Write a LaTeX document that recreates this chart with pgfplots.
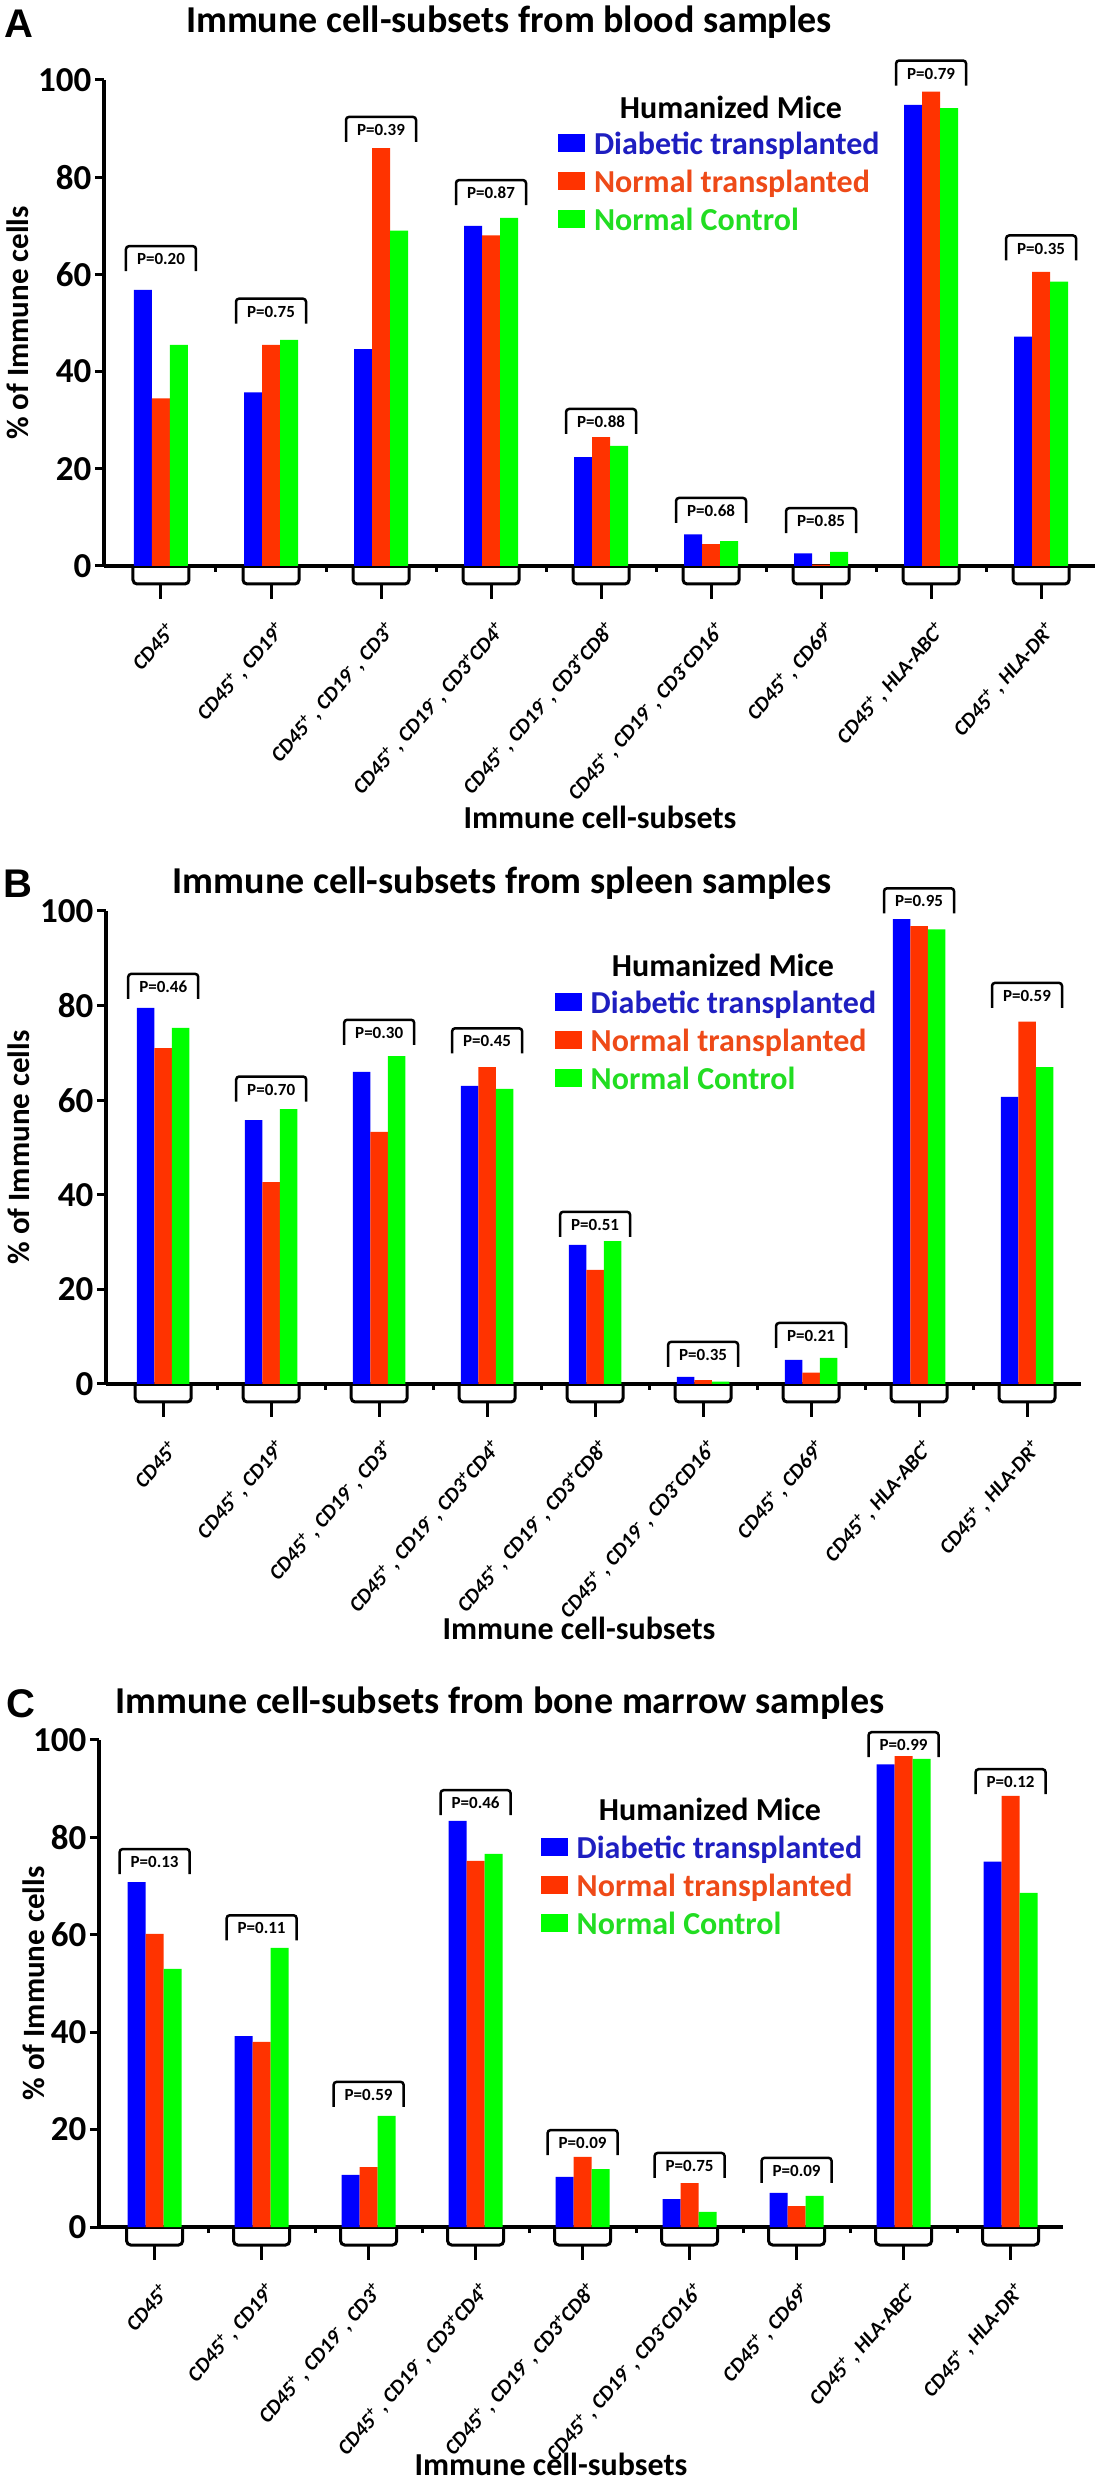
\documentclass[border=0pt]{standalone}
\usepackage{fontspec}
\setmainfont{Carlito}
\newfontfamily\arialfont{Liberation Sans}
\usepackage{pgfplots}
\usepackage{pgfplotstable}
\pgfplotsset{compat=1.18}

\definecolor{cdt}{HTML}{0000FF}
\definecolor{cnt}{HTML}{FF3300}
\definecolor{cnc}{HTML}{00FF00}
\definecolor{tdt}{HTML}{1E1EC0}
\definecolor{tnt}{HTML}{EE4A18}
\definecolor{tnc}{HTML}{22DD22}

\newcommand{\fs}[1]{\fontsize{#1}{#1}\selectfont\bfseries}

% % of immune cells: diabetic transplanted, normal transplanted, normal control
\pgfplotstableread{
x dt nt nc
0 56.8 34.5 45.5
1 35.7 45.5 46.5
2 44.6 86.0 69.0
3 70.0 68.0 71.6
4 22.4 26.5 24.7
5 6.5 4.5 5.1
6 2.6 0.3 2.9
7 94.9 97.6 94.2
8 47.2 60.5 58.5
}\blood
\pgfplotstableread{
x dt nt nc
0 79.5 71.0 75.3
1 55.8 42.7 58.1
2 66.0 53.3 69.3
3 63.0 67.0 62.4
4 29.4 24.1 30.2
5 1.5 0.8 0.5
6 5.1 2.4 5.5
7 98.3 96.8 96.1
8 60.7 76.6 67.0
}\spleen
\pgfplotstableread{
x dt nt nc
0 70.8 60.2 53.0
1 39.2 38.0 57.3
2 10.7 12.3 22.8
3 83.4 75.2 76.6
4 10.3 14.4 11.9
5 5.7 9.0 3.1
6 7.0 4.3 6.4
7 95.0 96.7 96.1
8 75.0 88.5 68.6
}\marrow

\pgfplotsset{
  sq/.style={legend image code/.code={\fill[##1] (0pt,-8pt) rectangle (27pt,10pt); \path (35pt,0pt);}},
  panel/.style={
    scale only axis,
    ybar=0pt, bar width=18pt,
    ymin=0, ymax=100, ytick={0,20,...,100},
    axis x line=bottom, axis y line=left,
    axis line style={line width=3.5pt,-},
    tick align=outside,
    tick style={black, line width=3pt},
    major tick length=9pt, minor tick length=6pt,
    xtick={0,...,8},
    minor xtick={0.5,1.5,...,7.5},
    major x tick style={draw=none},
    xticklabels={
      {CD45\textsuperscript{+}},
      {CD45\textsuperscript{+} , CD19\textsuperscript{+}},
      {CD45\textsuperscript{+} , CD19\textsuperscript{-} , CD3\textsuperscript{+}},
      {CD45\textsuperscript{+} , CD19\textsuperscript{-} , CD3\textsuperscript{+}CD4\textsuperscript{+}},
      {CD45\textsuperscript{+} , CD19\textsuperscript{-} , CD3\textsuperscript{+}CD8\textsuperscript{+}},
      {CD45\textsuperscript{+} , CD19\textsuperscript{-} , CD3\textsuperscript{-}CD16\textsuperscript{+}},
      {CD45\textsuperscript{+} , CD69\textsuperscript{+}},
      {CD45\textsuperscript{+} , HLA-ABC\textsuperscript{+}},
      {CD45\textsuperscript{+} , HLA-DR\textsuperscript{+}}},
    % the shift below is taken in the rotated frame of the label
    xticklabel style={rotate=49, anchor=east, inner sep=0pt,
      xshift=-32pt, yshift=-41pt, font=\fs{21}\itshape},
    yticklabel style={font=\fs{35}, /pgf/number format/assume math mode=true},
    ylabel={\% of Immune cells},
    ylabel style={font=\fs{31}, anchor=center},
    clip=false,
    legend style={draw=none, fill=none, anchor=north west, font=\fs{32},
      row sep=12pt, inner sep=0pt, nodes={inner sep=1pt}},
    legend cell align=left,
  }
}

% bracket under each category
\newcommand{\gbox}[1]{%
  \draw[line width=3pt, rounded corners=4pt]
    ([xshift=-28pt]axis cs:#1,0) -- ([shift={(-28pt,-18pt)}]axis cs:#1,0)
    -- ([shift={(28pt,-18pt)}]axis cs:#1,0) -- ([xshift=28pt]axis cs:#1,0);
  \draw[line width=3pt] ([yshift=-18pt]axis cs:#1,0) -- ([yshift=-33pt]axis cs:#1,0);}
% P value box above each group
\newcommand{\pbox}[3]{%
  \draw[line width=2.5pt, rounded corners=3pt]
    ([shift={(-35pt,-25pt)}]axis cs:#1,#2) -- ([xshift=-35pt]axis cs:#1,#2)
    -- ([xshift=35pt]axis cs:#1,#2) -- ([shift={(35pt,-25pt)}]axis cs:#1,#2);
  \node[font=\fs{17}] at ([yshift=-13pt]axis cs:#1,#2) {P=#3};}

\begin{document}
\begin{tikzpicture}[x=1pt,y=1pt]
\useasboundingbox (0,0) rectangle (1103,2478);

% ---------- A: blood ----------
\begin{axis}[panel, at={(104pt,1912pt)}, anchor=south west,
    width=991pt, height=486pt, xmin=-0.518, xmax=8.49,
    ylabel style={at={(axis description cs:-0.087,0.5)}},
    legend style={at={(axis description cs:0.458,0.895)}}]
  \addplot[fill=cdt, draw=none, sq] table[x=x,y=dt]{\blood};
  \addlegendentry{\textcolor{tdt}{Diabetic transplanted}}
  \addplot[fill=cnt, draw=none, sq] table[x=x,y=nt]{\blood};
  \addlegendentry{\textcolor{tnt}{Normal transplanted}}
  \addplot[fill=cnc, draw=none, sq] table[x=x,y=nc]{\blood};
  \addlegendentry{\textcolor{tnc}{Normal Control}}
  \pgfplotsinvokeforeach{0,...,8}{\gbox{#1}}
  \pbox{0}{65.8}{0.20}\pbox{1}{55.0}{0.75}\pbox{2}{92.4}{0.39}
  \pbox{3}{79.4}{0.87}\pbox{4}{32.3}{0.88}\pbox{5}{14.0}{0.68}
  \pbox{6}{11.9}{0.85}\pbox{7}{104.0}{0.79}\pbox{8}{68.0}{0.35}
\end{axis}

% ---------- B: spleen ----------
\begin{axis}[panel, at={(106pt,1094pt)}, anchor=south west,
    width=975pt, height=473pt, xmin=-0.53, xmax=8.5, bar width=17.5pt,
    ylabel style={at={(axis description cs:-0.09,0.5)}},
    legend style={at={(axis description cs:0.460,0.833)}}]
  \addplot[fill=cdt, draw=none, sq] table[x=x,y=dt]{\spleen};
  \addlegendentry{\textcolor{tdt}{Diabetic transplanted}}
  \addplot[fill=cnt, draw=none, sq] table[x=x,y=nt]{\spleen};
  \addlegendentry{\textcolor{tnt}{Normal transplanted}}
  \addplot[fill=cnc, draw=none, sq] table[x=x,y=nc]{\spleen};
  \addlegendentry{\textcolor{tnc}{Normal Control}}
  \pgfplotsinvokeforeach{0,...,8}{\gbox{#1}}
  \pbox{0}{86.7}{0.46}\pbox{1}{65.0}{0.70}\pbox{2}{77.0}{0.30}
  \pbox{3}{75.2}{0.45}\pbox{4}{36.4}{0.51}\pbox{5}{8.9}{0.35}
  \pbox{6}{12.9}{0.21}\pbox{7}{104.8}{0.95}\pbox{8}{84.8}{0.59}
\end{axis}

% ---------- C: bone marrow ----------
\begin{axis}[panel, at={(99pt,251pt)}, anchor=south west,
    width=964pt, height=487pt, xmin=-0.52, xmax=8.49,
    ylabel style={at={(axis description cs:-0.068,0.5)}},
    legend style={at={(axis description cs:0.458,0.805)}}]
  \addplot[fill=cdt, draw=none, sq] table[x=x,y=dt]{\marrow};
  \addlegendentry{\textcolor{tdt}{Diabetic transplanted}}
  \addplot[fill=cnt, draw=none, sq] table[x=x,y=nt]{\marrow};
  \addlegendentry{\textcolor{tnt}{Normal transplanted}}
  \addplot[fill=cnc, draw=none, sq] table[x=x,y=nc]{\marrow};
  \addlegendentry{\textcolor{tnc}{Normal Control}}
  \pgfplotsinvokeforeach{0,...,8}{\gbox{#1}}
  \pbox{0}{77.6}{0.13}\pbox{1}{64.0}{0.11}\pbox{2}{29.8}{0.59}
  \pbox{3}{89.7}{0.46}\pbox{4}{19.9}{0.09}\pbox{5}{15.2}{0.75}
  \pbox{6}{14.2}{0.09}\pbox{7}{101.6}{0.99}\pbox{8}{94.0}{0.12}
\end{axis}

% titles, panel letters, legend headings, x labels
\node[font=\fs{38}] at (509,2456) {Immune cell-subsets from blood samples};
\node[font=\fs{38}] at (502,1595) {Immune cell-subsets from spleen samples};
\node[font=\fs{38}] at (500,775) {Immune cell-subsets from bone marrow samples};
\node[font=\arialfont\bfseries\fontsize{40}{40}\selectfont] at (19,2454) {A};
\node[font=\arialfont\bfseries\fontsize{40}{40}\selectfont] at (18,1594) {B};
\node[font=\arialfont\bfseries\fontsize{40}{40}\selectfont] at (21,774) {C};
\node[font=\fs{32}] at (731,2371) {Humanized Mice};
\node[font=\fs{32}] at (723,1513) {Humanized Mice};
\node[font=\fs{32}] at (710,669) {Humanized Mice};
\node[font=\fs{32}] at (600,1661) {Immune cell-subsets};
\node[font=\fs{32}] at (579,850) {Immune cell-subsets};
\node[font=\fs{32}] at (551,14) {Immune cell-subsets};
\end{tikzpicture}
\end{document}
